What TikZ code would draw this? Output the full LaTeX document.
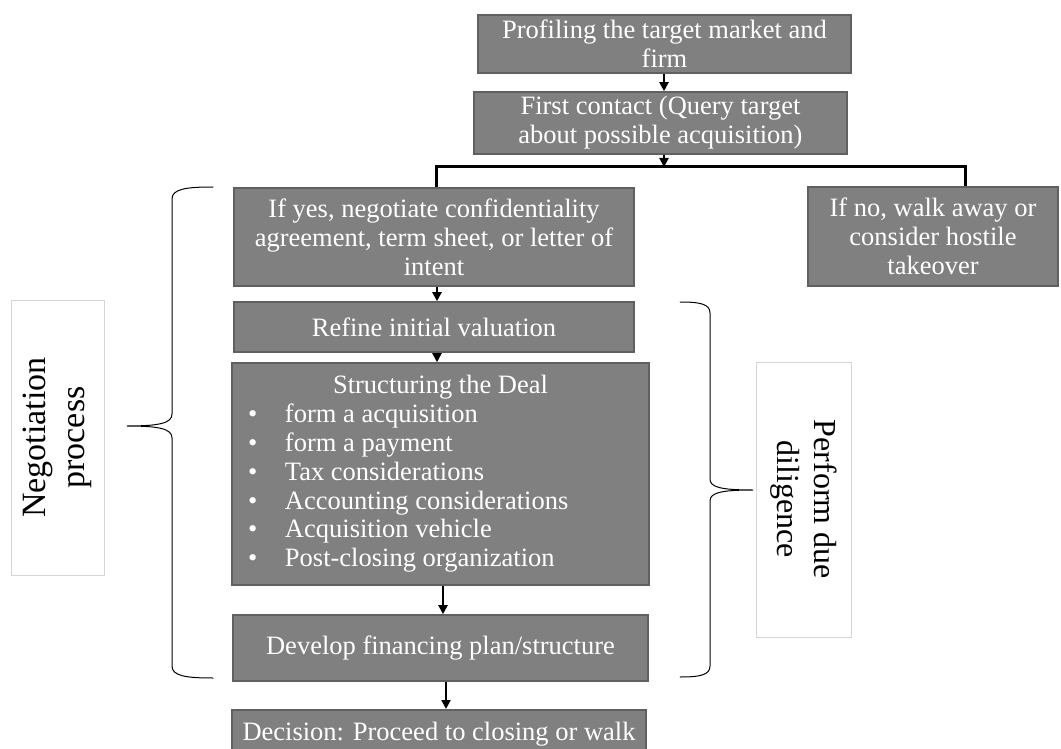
\documentclass[tikz,border=0pt]{standalone}
\usepackage{fontspec}
\setmainfont{Liberation Serif}
\usetikzlibrary{arrows.meta}

\definecolor{boxfill}{HTML}{808080}
\definecolor{boxedge}{HTML}{606060}
\definecolor{labeledge}{HTML}{D6D6D6}

\tikzset{
  stepbox/.style={draw=boxedge, line width=1.6pt, fill=boxfill, text=white,
    inner sep=0pt, align=center, font=\fontsize{26.5}{29}\selectfont},
  flow/.style={line width=2pt, -{Triangle[length=9pt,width=9pt]}},
  branch/.style={line width=3pt},
  bracket/.style={line width=1pt, line cap=round},
  sidelabel/.style={draw=labeledge, line width=0.6pt, fill=white,
    align=center, inner sep=0pt}
}

\begin{document}
\begin{tikzpicture}[x=1pt,y=-1pt]
\useasboundingbox (0,0) rectangle (1061,749);
\clip (0,0) rectangle (1061,749);

% process steps
\node[stepbox, minimum width=373, minimum height=58] (prof) at (664.5,44)
  {Profiling the target market and\\firm};
\node[stepbox, minimum width=373, minimum height=62] (first) at (660.5,123)
  {First contact (Query target\\about possible acquisition)};
\node[stepbox, minimum width=400, minimum height=98] (yes) at (434,237)
  {If yes, negotiate confidentiality\\agreement, term sheet, or letter of\\intent};
\node[stepbox, minimum width=250, minimum height=99] (no) at (933,236.5)
  {If no, walk away or\\consider hostile\\takeover};
\node[stepbox, minimum width=400, minimum height=50] (refine) at (434,327)
  {Refine initial valuation};
\node[stepbox, minimum width=417, minimum height=222, text width=417pt,
      align=flush left, font=\fontsize{26.5}{28.8}\selectfont] (deal) at (440.5,474)
  {\makebox[\linewidth]{Structuring the Deal}\\
   \hspace*{16pt}\makebox[37pt][l]{•}form a acquisition\\
   \hspace*{16pt}\makebox[37pt][l]{•}form a payment\\
   \hspace*{16pt}\makebox[37pt][l]{•}Tax considerations\\
   \hspace*{16pt}\makebox[37pt][l]{•}Accounting considerations\\
   \hspace*{16pt}\makebox[37pt][l]{•}Acquisition vehicle\\
   \hspace*{16pt}\makebox[37pt][l]{•}Post-closing organization};
\node[stepbox, minimum width=415, minimum height=66] (finance) at (440.5,648)
  {Develop financing plan/structure};
\node[stepbox, anchor=north, minimum width=414, inner ysep=17pt,
      text height=14pt, text depth=40pt] (decide) at (439,709)
  {Decision: Proceed to closing or walk};

% side labels
\node[sidelabel, rotate=90, minimum width=275, minimum height=93,
      font=\fontsize{34}{39}\selectfont] (nego) at (57.5,437.5)
  {Negotiation\\process};
\node[sidelabel, rotate=-90, minimum width=275, minimum height=95,
      font=\fontsize{32}{37}\selectfont] (due) at (803.5,499.5)
  {Perform due\\diligence};

% connectors
\coordinate (c1) at (664,0);
\coordinate (jl) at (436,167);
\coordinate (jr) at (965,167);
\coordinate (c2) at (437,0);
\coordinate (c3) at (443,0);
\coordinate (c4) at (446,0);

\draw[flow] (prof.south -| c1) -- (first.north -| c1);
\draw[flow] (first.south -| c1) -- (c1 |- jl);
\draw[branch] (yes.north -| jl) -- (jl) -- (jr) -- (no.north -| jr);
\draw[flow] (yes.south -| c2) -- (refine.north -| c2);
\draw[flow] (refine.south -| c2) -- (deal.north -| c2);
\draw[flow] (deal.south -| c3) -- (finance.north -| c3);
\draw[flow] (finance.south -| c4) -- (decide.north -| c4);

% braces
\draw[bracket] (213,187) .. controls (186,187) and (172,189) .. (172,199)
  -- (172,414) .. controls (172,423) and (160,426) .. (127,426)
  .. controls (160,426) and (172,429) .. (172,438)
  -- (172,666) .. controls (172,676) and (186,678) .. (213,678);
\draw[bracket] (680,302) .. controls (700,302) and (710,304) .. (710,313)
  -- (710,479) .. controls (710,487) and (720,490) .. (753,490)
  .. controls (720,490) and (710,493) .. (710,501)
  -- (710,666) .. controls (710,675) and (700,677) .. (680,677);
\end{tikzpicture}
\end{document}
